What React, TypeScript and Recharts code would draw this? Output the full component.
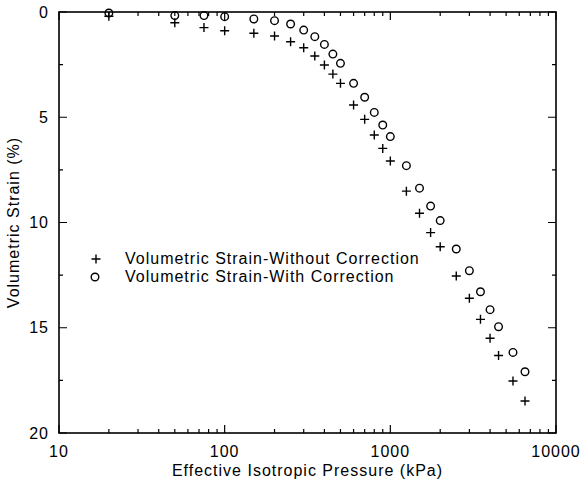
import React from 'react';
import { ScatterChart, Scatter, XAxis, YAxis } from 'recharts';

// Effective isotropic pressure (kPa) at each loading step
const pressures = [20, 50, 75, 100, 150, 200, 250, 300, 350, 400, 450, 500, 600, 700, 800, 900, 1000, 1250, 1500, 1750, 2000, 2500, 3000, 3500, 4000, 4500, 5500, 6500];
// Volumetric strain (%) without membrane correction
const strainWithout = [0.2, 0.51, 0.74, 0.89, 1.01, 1.14, 1.41, 1.7, 2.09, 2.52, 2.95, 3.39, 4.42, 5.1, 5.84, 6.48, 7.08, 8.51, 9.56, 10.48, 11.15, 12.54, 13.6, 14.6, 15.5, 16.32, 17.53, 18.48];
// Volumetric strain (%) with membrane correction
const strainWith = [0.05, 0.17, 0.17, 0.22, 0.33, 0.41, 0.57, 0.86, 1.17, 1.54, 2.0, 2.44, 3.39, 4.05, 4.77, 5.37, 5.92, 7.3, 8.37, 9.22, 9.91, 11.26, 12.29, 13.29, 14.14, 14.95, 16.17, 17.09];

// Axis ticks: decades carry labels, the rest are minor marks
const xTicks = [10, 20, 30, 40, 50, 60, 70, 80, 90, 100, 200, 300, 400, 500, 600, 700, 800, 900, 1000, 2000, 3000, 4000, 5000, 6000, 7000, 8000, 9000, 10000];
const xLabelTicks = [10, 100, 1000, 10000];
const yTicks = [0, 2.5, 5, 7.5, 10, 12.5, 15, 17.5, 20];
const yLabelTicks = [0, 5, 10, 15, 20];
const xDomain = [10, 10000];
const yDomain = [0, 20];

const seriesNames = ['Volumetric Strain-Without Correction', 'Volumetric Strain-With Correction'];

const withoutData = pressures.map((p, i) => ({ p, s: strainWithout[i] }));
const withData = pressures.map((p, i) => ({ p, s: strainWith[i] }));

// Chart size and plotting rectangle; margins and axis sizes are derived from it
const W = 583;
const H = 482;
const PLOT = { left: 59, top: 12, right: 556, bottom: 433 };

const FONT = 'Liberation Sans, Arial, sans-serif';
const MAJOR = 8;
const MINOR = 4;

const Txt = (props: any) => (
  <text fontFamily={FONT} fontSize={16} letterSpacing={1} fill="#000" dominantBaseline="central" {...props} />
);

const PlusShape = (props: any) => {
  const { cx, cy } = props;
  const h = 4.5;
  return <path d={`M${cx - h},${cy}H${cx + h}M${cx},${cy - h}V${cy + h}`} stroke="#000" strokeWidth={1.4} fill="none" />;
};

const CircleShape = (props: any) => {
  const { cx, cy } = props;
  return <circle cx={cx} cy={cy} r={3.8} fill="none" stroke="#000" strokeWidth={1.4} />;
};

const BottomLabel = (props: any) => {
  const { x, y, payload } = props;
  if (!xLabelTicks.includes(payload.value)) return <g />;
  return (
    <Txt x={x} y={y + 10} textAnchor="middle">
      {payload.value}
    </Txt>
  );
};

const LeftLabel = (props: any) => {
  const { x, y, payload } = props;
  if (!yLabelTicks.includes(payload.value)) return <g />;
  return (
    <Txt x={x - 2} y={y} textAnchor="end">
      {payload.value}
    </Txt>
  );
};

const XTitle = (props: any) => {
  const { x, y, width } = props.viewBox;
  return (
    <Txt x={x + width / 2} y={y + 37} textAnchor="middle">
      Effective Isotropic Pressure (kPa)
    </Txt>
  );
};

const YTitle = (props: any) => {
  const { x, y, height } = props.viewBox;
  const cx = x + 13;
  const cy = y + height / 2;
  return (
    <Txt x={cx} y={cy} textAnchor="middle" transform={`rotate(-90 ${cx} ${cy})`}>
      Volumetric Strain (%)
    </Txt>
  );
};

// Boxed frame with inward ticks on all four sides (log pressure axis, reversed strain axis)
const AxisBox = () => {
  const lx0 = Math.log10(xDomain[0]);
  const lx1 = Math.log10(xDomain[1]);
  const px = (v: number) => PLOT.left + ((Math.log10(v) - lx0) / (lx1 - lx0)) * (PLOT.right - PLOT.left);
  const py = (v: number) => PLOT.top + ((v - yDomain[0]) / (yDomain[1] - yDomain[0])) * (PLOT.bottom - PLOT.top);
  let d = '';
  xTicks.forEach((v) => {
    const len = xLabelTicks.includes(v) ? MAJOR : MINOR;
    const x = px(v);
    d += `M${x},${PLOT.bottom}V${PLOT.bottom - len}M${x},${PLOT.top}V${PLOT.top + len}`;
  });
  yTicks.forEach((v) => {
    const len = yLabelTicks.includes(v) ? MAJOR : MINOR;
    const y = py(v);
    d += `M${PLOT.left},${y}H${PLOT.left + len}M${PLOT.right},${y}H${PLOT.right - len}`;
  });
  return (
    <svg width={W} height={H} style={{ position: 'absolute', left: 0, top: 0, pointerEvents: 'none' }}>
      <path d={d} stroke="#000" strokeWidth={1.2} fill="none" />
      <rect
        x={PLOT.left}
        y={PLOT.top}
        width={PLOT.right - PLOT.left}
        height={PLOT.bottom - PLOT.top}
        fill="none"
        stroke="#000"
        strokeWidth={1.6}
      />
    </svg>
  );
};

// Series key, placed over the empty lower-left part of the plot
const SeriesKey = () => (
  <svg width={360} height={40} style={{ position: 'absolute', left: 80, top: 248, overflow: 'visible' }}>
    <PlusShape cx={16} cy={11} />
    <Txt x={45} y={10}>
      {seriesNames[0]}
    </Txt>
    <CircleShape cx={15} cy={29} />
    <Txt x={45} y={28}>
      {seriesNames[1]}
    </Txt>
  </svg>
);

export default function App() {
  return (
    <div style={{ position: 'absolute', left: 0, top: 0, width: W, height: H, background: '#fff' }}>
      <ScatterChart width={W} height={H} margin={{ top: PLOT.top, right: W - PLOT.right, bottom: 0, left: 0 }}>
        <XAxis
          xAxisId="bottom"
          dataKey="p"
          type="number"
          scale="log"
          domain={xDomain}
          ticks={xTicks}
          interval={0}
          orientation="bottom"
          height={H - PLOT.bottom}
          tickSize={6}
          tickMargin={2}
          tickLine={false}
          axisLine={false}
          tick={<BottomLabel />}
          label={<XTitle />}
        />
        <YAxis
          yAxisId="left"
          dataKey="s"
          type="number"
          domain={yDomain}
          reversed
          ticks={yTicks}
          interval={0}
          orientation="left"
          width={PLOT.left}
          tickSize={6}
          tickMargin={2}
          tickLine={false}
          axisLine={false}
          tick={<LeftLabel />}
          label={<YTitle />}
        />
        <Scatter
          name={seriesNames[0]}
          data={withoutData}
          xAxisId="bottom"
          yAxisId="left"
          shape={<PlusShape />}
          isAnimationActive={false}
        />
        <Scatter
          name={seriesNames[1]}
          data={withData}
          xAxisId="bottom"
          yAxisId="left"
          shape={<CircleShape />}
          isAnimationActive={false}
        />
      </ScatterChart>
      <AxisBox />
      <SeriesKey />
    </div>
  );
}
